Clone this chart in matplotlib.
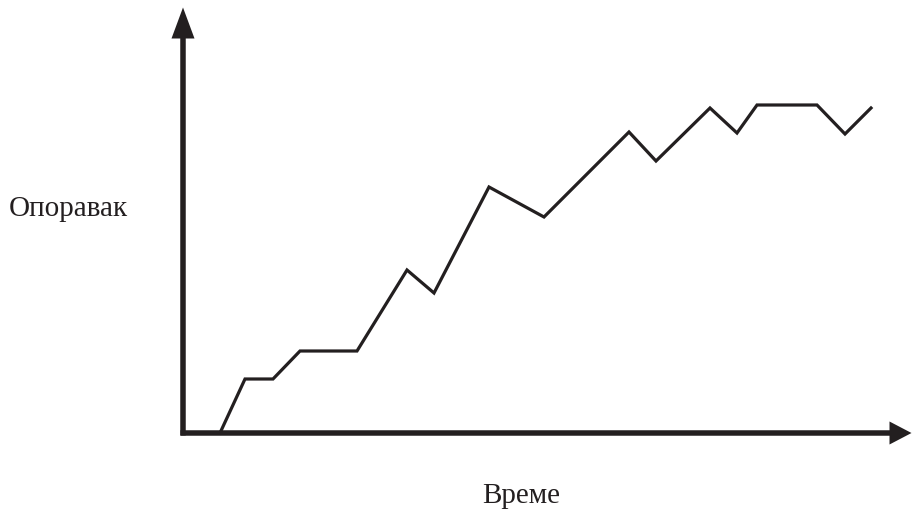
import matplotlib
matplotlib.use('Agg')
import matplotlib.pyplot as plt

# time / recovery values (arbitrary units)
time = [37, 62, 90, 117, 174, 224, 251, 306, 361, 446, 473, 527, 554, 574, 634, 662, 688]
recovery = [0, 54, 54, 82, 82, 163, 140, 246, 216, 301, 272, 325, 300, 328, 328, 299, 325]

x_label = 'Време'
y_label = 'Опоравак'

ink = '#231f20'

fig = plt.figure(figsize=(9.13, 5.12), dpi=100)
ax = fig.add_axes([0, 0, 1, 1])
ax.set_xlim(-183, 730)
ax.set_ylim(-79, 433)
ax.axis('off')

# axes drawn as arrows
ax.arrow(0, -2.5, 0, 428, width=5.5, head_width=23, head_length=31,
         length_includes_head=True, color=ink, lw=0)
ax.arrow(-2.5, 0, 731, 0, width=5.5, head_width=23, head_length=22,
         length_includes_head=True, color=ink, lw=0)

ax.plot(time, recovery, color=ink, lw=2.3, solid_joinstyle='miter')

ax.text(-115, 224, y_label, ha='center', va='center', fontsize=21,
        family='Liberation Serif', color=ink)
ax.text(338, -63, x_label, ha='center', va='center', fontsize=21,
        family='Liberation Serif', color=ink)

fig.savefig('out.png', dpi=100)
